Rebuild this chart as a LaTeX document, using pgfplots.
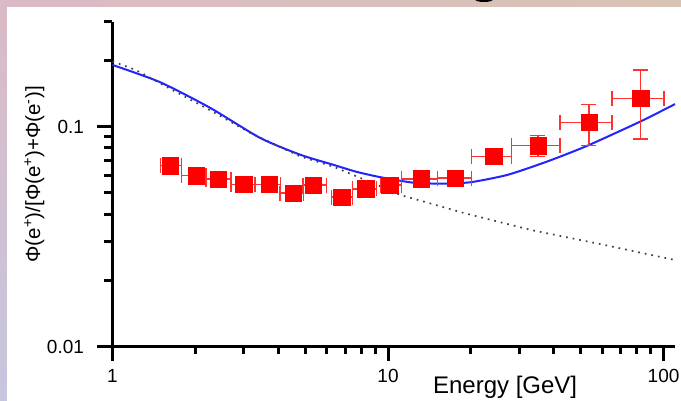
\documentclass[border=0pt]{standalone}
\usepackage{pgfplots}
\pgfplotsset{compat=1.18}
\usepackage{fontspec}
\setmainfont{Liberation Sans}

\definecolor{bgUL}{RGB}{218,186,198}
\definecolor{bgUM}{RGB}{214,182,208}
\definecolor{bgUR}{RGB}{216,196,180}
\definecolor{bgLL}{RGB}{198,198,222}
\definecolor{ptred}{RGB}{255,0,0}
\definecolor{errred}{RGB}{255,50,50}
\definecolor{modelblue}{RGB}{35,35,255}

% PAMELA positron fraction: energy, fraction, bin half-widths, errors
\pgfplotstableread{
E      f       exm    exp    eym     eyp
1.62   0.0666  0.127  0.161  0.002   0.002
2.01   0.0599  0.227  0.176  0.002   0.002
2.42   0.0577  0.233  0.270  0.002   0.002
2.99   0.0547  0.302  0.305  0.002   0.002
3.70   0.0547  0.399  0.369  0.002   0.002
4.52   0.0498  0.458  0.418  0.002   0.002
5.34   0.0542  0.419  0.633  0.002   0.002
6.79   0.0478  0.562  0.643  0.002   0.002
8.28   0.0521  0.847  0.796  0.002   0.002
10.15  0.0542  0.766  1.021  0.002   0.002
13.17  0.0579  2.0    1.94   0.002   0.002
17.56  0.0583  2.45   2.51   0.002   0.002
24.2   0.0733  4.12   3.88   0.004   0.004
35.0   0.0820  6.94   7.04   0.0087  0.0090
53.6   0.1046  11.54  11.33  0.0227  0.0215
82.6   0.1346  17.66  17.77  0.0465  0.0465
}\pamela

% secondary production model
\pgfplotstableread{
E      f
1.0    0.191
1.489  0.1594
2.262  0.1218
3.439  0.0888
4.81   0.0745
6.33   0.0671
7.66   0.0624
9.39   0.0589
12.38  0.0556
15.72  0.0551
19.95  0.0559
27.16  0.0604
37.88  0.0695
52.99  0.0820
82.8   0.1059
110    0.1267
}\model

% pure secondary expectation, dotted
\pgfplotstableread{
E      f
1.0    0.198
1.158  0.1854
1.259  0.1772
1.489  0.1574
2.262  0.1188
3.162  0.0937
4.81   0.0732
6.33   0.0658
9.39   0.0535
11.10  0.0489
18.83  0.0405
32.98  0.0339
57.69  0.0294
109.1  0.0248
}\secondary

\begin{document}
\begin{tikzpicture}
\useasboundingbox (0pt,0pt) rectangle (681pt,-401pt);
% slide background: tinted frame around a white panel
\shade[top color=bgUL, bottom color=bgLL] (0pt,0pt) rectangle (7pt,-401pt);
\shade[left color=bgUL, middle color=bgUM, right color=bgUR] (0pt,0pt) rectangle (681pt,-7pt);
\fill[white] (7pt,-7pt) rectangle (681pt,-401pt);
\begin{scope}
\clip (0pt,0pt) rectangle (681pt,-401pt);
\fill[black] (484pt,0.5pt) ellipse [x radius=9pt, y radius=2.5pt];
\end{scope}

\begin{axis}[
  at={(112.5pt,-346.5pt)}, anchor=south west,
  scale only axis, width=562.5pt, height=324.7pt,
  xmode=log, ymode=log,
  xmin=1, xmax=110, ymin=0.01, ymax=0.3,
  axis lines=left,
  axis line style={-, draw=none},
  xtick=\empty, ytick=\empty,
  xlabel={Energy [GeV]},
  xlabel style={at={(axis description cs:0.698,0)}, anchor=center, yshift=-41pt, font=\fontsize{24}{28}\selectfont},
  ylabel={Φ(e\textsuperscript{+})/[Φ(e\textsuperscript{+})+Φ(e\textsuperscript{-})]},
  ylabel style={at={(axis description cs:-0.139,0.53)}, anchor=center, font=\fontsize{20.5}{22}\selectfont},
  clip=false,
]
% axis frame: solid bars for the two axis lines
\fill[black] ([xshift=-1.75pt,yshift=-1.75pt]axis cs:1,0.01) rectangle ([xshift=1.75pt]axis cs:1,0.3);
\fill[black] ([xshift=-1.75pt,yshift=-1.75pt]axis cs:1,0.01) rectangle ([yshift=1.75pt]axis cs:110,0.01);
% outward ticks and their labels
\pgfplotsinvokeforeach{1,10,100}{
  \fill[black] ([xshift=-1.5pt]axis cs:#1,0.01) rectangle ([xshift=1.5pt,yshift=-14.5pt]axis cs:#1,0.01);
  \node[font=\fontsize{19}{21}\selectfont, anchor=center] at ([yshift=-29pt]axis cs:#1,0.01) {#1};
}
\pgfplotsinvokeforeach{2,3,4,5,6,7,8,9,20,30,40,50,60,70,80,90}{
  \fill[black] ([xshift=-1.5pt]axis cs:#1,0.01) rectangle ([xshift=1.5pt,yshift=-7.5pt]axis cs:#1,0.01);
}
\pgfplotsinvokeforeach{0.01,0.1}{
  \fill[black] ([yshift=-1.5pt]axis cs:1,#1) rectangle ([xshift=-15.5pt,yshift=1.5pt]axis cs:1,#1);
  \node[font=\fontsize{19}{21}\selectfont, anchor=east] at ([xshift=-25pt]axis cs:1,#1) {#1};
}
\pgfplotsinvokeforeach{0.02,0.03,0.04,0.05,0.06,0.07,0.08,0.09,0.2,0.3}{
  \fill[black] ([yshift=-1.5pt]axis cs:1,#1) rectangle ([xshift=-8.5pt,yshift=1.5pt]axis cs:1,#1);
}

\addplot[modelblue, line width=2pt, smooth, tension=0.4] table[x=E, y=f] {\model};
\addplot[black!75, line width=1.7pt, dash pattern=on 1.7pt off 5pt] table[x=E, y=f] {\secondary};
\addplot[only marks, mark=square*, mark size=8.25pt,
  mark options={fill=ptred, draw=ptred},
  error bars/.cd,
    x dir=both, x explicit, y dir=both, y explicit,
    error bar style={line width=1.5pt, errred},
    error mark options={line width=1.5pt, errred, mark size=7.5pt, rotate=90},
] table[x=E, y=f, x error minus=exm, x error plus=exp, y error minus=eym, y error plus=eyp] {\pamela};
\end{axis}
\end{tikzpicture}
\end{document}
